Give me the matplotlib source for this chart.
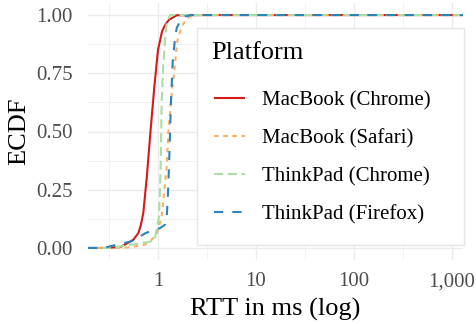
import matplotlib

matplotlib.use("Agg")
import matplotlib.pyplot as plt
from matplotlib.patches import Rectangle
from matplotlib.ticker import FixedLocator, FuncFormatter, NullFormatter

# ECDF: RTT quantiles (ms) at given cumulative probabilities
platforms = ["MacBook (Chrome)", "MacBook (Safari)", "ThinkPad (Chrome)", "ThinkPad (Firefox)"]

mac_chrome_rtt = [0.30, 0.42, 0.556, 0.629, 0.67, 0.708, 0.767, 0.838, 0.921, 1.0, 1.10, 1.20, 1.30, 1.552, 3.0, 900]
mac_chrome_p = [0.0, 0.005, 0.034, 0.063, 0.10, 0.15, 0.30, 0.50, 0.70, 0.85, 0.93, 0.962, 0.98, 0.999, 1.0, 1.0]

mac_safari_rtt = [0.35, 0.49, 0.72, 0.83, 0.97, 1.09, 1.133, 1.227, 1.274, 1.358, 1.46, 1.57, 1.745, 1.963, 2.3, 900]
mac_safari_p = [0.0, 0.002, 0.013, 0.027, 0.06, 0.134, 0.206, 0.349, 0.492, 0.635, 0.75, 0.887, 0.95, 0.987, 1.0, 1.0]

tp_chrome_rtt = [0.30, 0.41, 0.829, 0.932, 1.007, 1.024, 1.065, 1.091, 1.13, 1.179, 1.207, 1.227, 1.33, 900]
tp_chrome_p = [0.0, 0.006, 0.027, 0.041, 0.12, 0.134, 0.349, 0.635, 0.78, 0.894, 0.93, 0.966, 1.0, 1.0]

tp_firefox_rtt = [0.25, 0.288, 0.518, 0.606, 0.74, 0.895, 1.048, 1.18, 1.227, 1.256, 1.295, 1.326, 1.358,
                  1.413, 1.491, 1.552, 1.676, 1.887, 2.2, 900]
tp_firefox_p = [0.0, 0.002, 0.027, 0.041, 0.063, 0.077, 0.085, 0.10, 0.134, 0.206, 0.349, 0.492, 0.635,
                0.80, 0.90, 0.944, 0.973, 0.994, 1.0, 1.0]

x_ticks = [1, 10, 100, 1000]
x_minor = [10 ** -0.5, 10 ** 0.5, 10 ** 1.5, 10 ** 2.5]
y_ticks = [0.0, 0.25, 0.5, 0.75, 1.0]
y_minor = [0.125, 0.375, 0.625, 0.875]

colors = ["#d7191c", "#fdae61", "#abdda4", "#2b83ba"]
styles = ["-", (0, (2.2, 2.2)), (0, (4.4, 2.2)), (0, (4.4, 4.4))]

plt.rcParams["font.family"] = ["Liberation Serif", "DejaVu Serif"]

fig = plt.figure(figsize=(4.76, 3.24), dpi=100)
W, H = 476, 324
ax = fig.add_axes([88 / W, 1 - 259.6 / H, (463 - 88) / W, (259.6 - 3.4) / H])

xlim = (10 ** ((88 - 158) / 98), 10 ** ((463 - 158) / 98))
series = [
    (mac_chrome_rtt, mac_chrome_p),
    (mac_safari_rtt, mac_safari_p),
    (tp_chrome_rtt, tp_chrome_p),
    (tp_firefox_rtt, tp_firefox_p),
]
handles = []
for (rtt, p), name, c, ls in zip(series, platforms, colors, styles):
    # pad to the panel edges like stat_ecdf(pad = TRUE)
    xs = [xlim[0]] + list(rtt) + [xlim[1]]
    ys = [0.0] + list(p) + [1.0]
    (h,) = ax.plot(xs, ys, color=c, linestyle=ls, lw=1.5, label=name, solid_capstyle="butt")
    handles.append(h)

ax.set_xscale("log")
ax.set_xlim(*xlim)
ax.set_ylim(-0.05, 1.05)
ax.xaxis.set_major_locator(FixedLocator(x_ticks))
ax.xaxis.set_minor_locator(FixedLocator(x_minor))
ax.xaxis.set_major_formatter(FuncFormatter(lambda v, _: f"{v:,.0f}"))
ax.xaxis.set_minor_formatter(NullFormatter())
ax.yaxis.set_major_locator(FixedLocator(y_ticks))
ax.yaxis.set_minor_locator(FixedLocator(y_minor))
ax.yaxis.set_major_formatter(FuncFormatter(lambda v, _: f"{v:.2f}"))

ax.grid(which="major", color="#ebebeb", lw=1.0)
ax.grid(which="minor", color="#f2f2f2", lw=0.7)
ax.set_axisbelow(True)
for s in ax.spines.values():
    s.set_visible(False)
ax.tick_params(which="both", length=0, labelsize=15, labelcolor="#4d4d4d")
ax.tick_params(axis="x", pad=9)
ax.tick_params(axis="y", pad=11)

ax.set_xlabel("RTT in ms (log)", fontsize=19, labelpad=5)
ax.set_ylabel("ECDF", fontsize=19, labelpad=4)

# legend box drawn by hand so the padding can match ggplot's
fig.patches.append(Rectangle((197 / W, 1 - 245 / H), (464 - 197) / W, (245 - 28) / H,
                             transform=fig.transFigure, facecolor="white",
                             edgecolor="#e5e5e5", lw=1.0, zorder=3))
fig.text(211 / W, 1 - 53 / H, "Platform", fontsize=19, va="center", ha="left", zorder=4)
leg = fig.legend(
    handles,
    platforms,
    loc="upper left",
    bbox_to_anchor=(214 / W, 1 - 91 / H),
    bbox_transform=fig.transFigure,
    fontsize=15,
    frameon=False,
    handlelength=1.5,
    handletextpad=0.8,
    labelspacing=0.88,
    borderpad=0,
    borderaxespad=0,
)
leg.set_zorder(5)
for line in leg.get_lines():
    line.set_linewidth(1.5)

fig.savefig("out.png", dpi=100)
